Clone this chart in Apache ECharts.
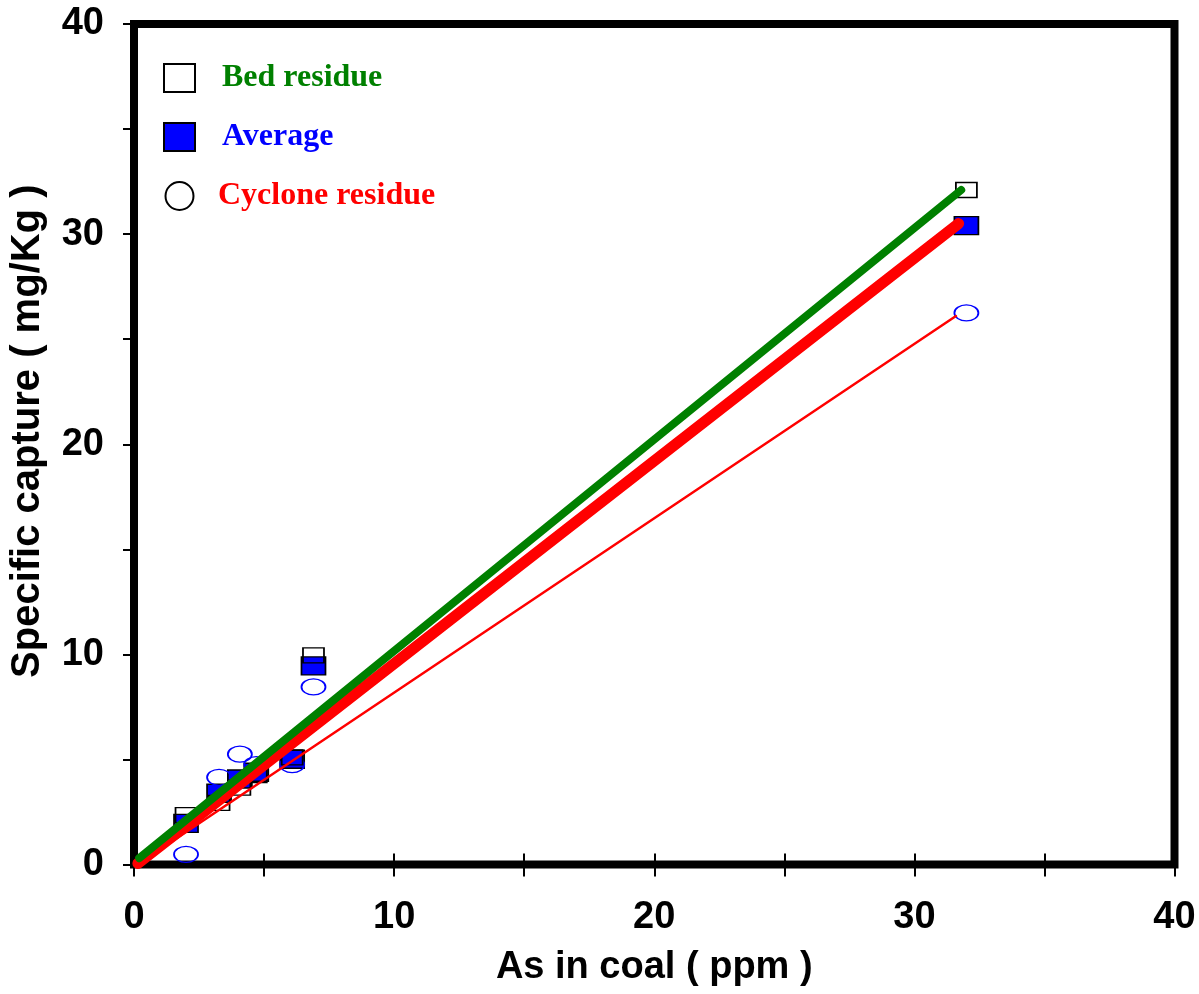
<!DOCTYPE html>
<html>
<head>
<meta charset="utf-8">
<script src="https://cdn.jsdelivr.net/npm/echarts@6/dist/echarts.min.js"></script>
<style>
  html, body { margin: 0; padding: 0; background: #fff; }
  #chart { width: 1199px; height: 994px; }
</style>
</head>
<body>
<div id="chart"></div>
<script>
// As content of coal (ppm) for each test
const asInCoal = [2.0, 3.27, 4.07, 4.7, 6.08, 6.9, 32.0];
// Specific capture (mg/Kg)
const bedResidue = [2.35, 2.93, 3.66, 4.25, 5.1, 9.95, 32.1];
const averageCapture = [1.96, 3.39, 4.07, 4.39, 5.01, 9.45, 30.4];
const cycloneResidue = [0.48, 4.15, 5.25, 4.75, 4.75, 8.45, 26.25];

// Linear trend lines (endpoints)
const bedFit = [[0.2, 0.3], [31.8, 32.1]];
const averageFit = [[0.15, 0.05], [31.7, 30.5]];
const cycloneFit = [[0.2, 0.05], [31.6, 26.1]];

const xTicks = { min: 0, max: 40, step: 5 };
const yTicks = { min: 0, max: 40, step: 5 };

const pairs = (xs, ys) => xs.map((x, i) => [x, ys[i]]);

const sans = "'Liberation Sans', Arial, sans-serif";
const serif = "'Liberation Serif', 'Times New Roman', serif";
const ellipse = 'path://M0,50 A50,50 0 1,1 100,50 A50,50 0 1,1 0,50 Z';

const tenOnly = v => (v % 10 === 0 ? String(v) : '');

const chart = echarts.init(document.getElementById('chart'), null, { renderer: 'canvas' });
chart.setOption({
  animation: false,
  backgroundColor: '#fff',
  grid: {
    left: 134, top: 24, right: 24.5, bottom: 129.5,
    show: true, borderColor: '#000', borderWidth: 8, backgroundColor: 'transparent'
  },
  legend: {
    left: 158, top: 57, orient: 'vertical',
    itemWidth: 31, itemHeight: 28, itemGap: 27,
    textStyle: { fontFamily: serif, fontWeight: 'bold', fontSize: 32, padding: [0, 0, 0, 22] },
    data: [
      { name: 'Bed residue', icon: 'rect', textStyle: { color: '#008000' },
        itemStyle: { color: '#fff', borderColor: '#000', borderWidth: 2 } },
      { name: 'Average', icon: 'rect', textStyle: { color: '#0000FF' },
        itemStyle: { color: '#0000FF', borderColor: '#000', borderWidth: 2 } },
      { name: 'Cyclone residue', icon: 'circle', textStyle: { color: '#FF0000', padding: [0, 0, 0, 18] },
        itemStyle: { color: '#fff', borderColor: '#000', borderWidth: 2 } }
    ]
  },
  xAxis: [
    {
      type: 'value', min: xTicks.min, max: xTicks.max, interval: xTicks.step,
      name: 'As in coal ( ppm )', nameLocation: 'middle', nameGap: 84,
      nameTextStyle: { fontFamily: sans, fontWeight: 'bold', fontSize: 38, color: '#000' },
      axisLine: { show: false },
      axisTick: { show: true, inside: false, length: 12, lineStyle: { color: '#000', width: 2 } },
      axisLabel: { formatter: tenOnly, margin: 34, fontFamily: sans, fontWeight: 'bold', fontSize: 38, color: '#000' },
      splitLine: { show: false }
    },
    {
      type: 'value', position: 'bottom', min: xTicks.min, max: xTicks.max, interval: xTicks.step,
      axisLine: { show: false },
      axisTick: { show: true, inside: true, length: 11, lineStyle: { color: '#000', width: 2 } },
      axisLabel: { show: false },
      splitLine: { show: false }
    }
  ],
  yAxis: {
    type: 'value', min: yTicks.min, max: yTicks.max, interval: yTicks.step,
    name: 'Specific capture ( mg/Kg )', nameLocation: 'middle', nameGap: 86,
    nameTextStyle: { fontFamily: sans, fontWeight: 'bold', fontSize: 40, color: '#000', padding: [0, 0, 0, 26] },
    axisLine: { show: false },
    axisTick: { show: true, inside: false, length: 11, lineStyle: { color: '#000', width: 2 } },
    axisLabel: { formatter: tenOnly, margin: 30, fontFamily: sans, fontWeight: 'bold', fontSize: 38, color: '#000' },
    splitLine: { show: false }
  },
  series: [
    {
      name: 'Average', type: 'scatter', data: pairs(asInCoal, averageCapture),
      symbol: 'rect', symbolSize: [24, 18],
      itemStyle: { color: '#0000FF', borderColor: '#000', borderWidth: 1.5, opacity: 1 }, z: 2
    },
    {
      name: 'Cyclone residue', type: 'scatter', data: pairs(asInCoal, cycloneResidue),
      symbol: ellipse, symbolSize: [24, 16],
      itemStyle: { color: 'rgba(0,0,0,0)', borderColor: '#0000FF', borderWidth: 1.5, opacity: 1 }, z: 3
    },
    {
      name: 'Bed residue', type: 'scatter', data: pairs(asInCoal, bedResidue),
      symbol: 'rect', symbolSize: [21, 15],
      itemStyle: { color: 'rgba(0,0,0,0)', borderColor: '#000', borderWidth: 1.5, opacity: 1 }, z: 4
    },
    {
      name: 'Cyclone fit', type: 'line', data: cycloneFit, showSymbol: false, symbol: 'none',
      lineStyle: { color: '#FF0000', width: 2.5, cap: 'round' }, z: 5
    },
    {
      name: 'Average fit', type: 'line', data: averageFit, showSymbol: false, symbol: 'none',
      lineStyle: { color: '#FF0000', width: 11, cap: 'round' }, z: 6
    },
    {
      name: 'Bed fit', type: 'line', data: bedFit, showSymbol: false, symbol: 'none',
      lineStyle: { color: '#008000', width: 8, cap: 'round' }, z: 7
    }
  ]
});
</script>
</body>
</html>
